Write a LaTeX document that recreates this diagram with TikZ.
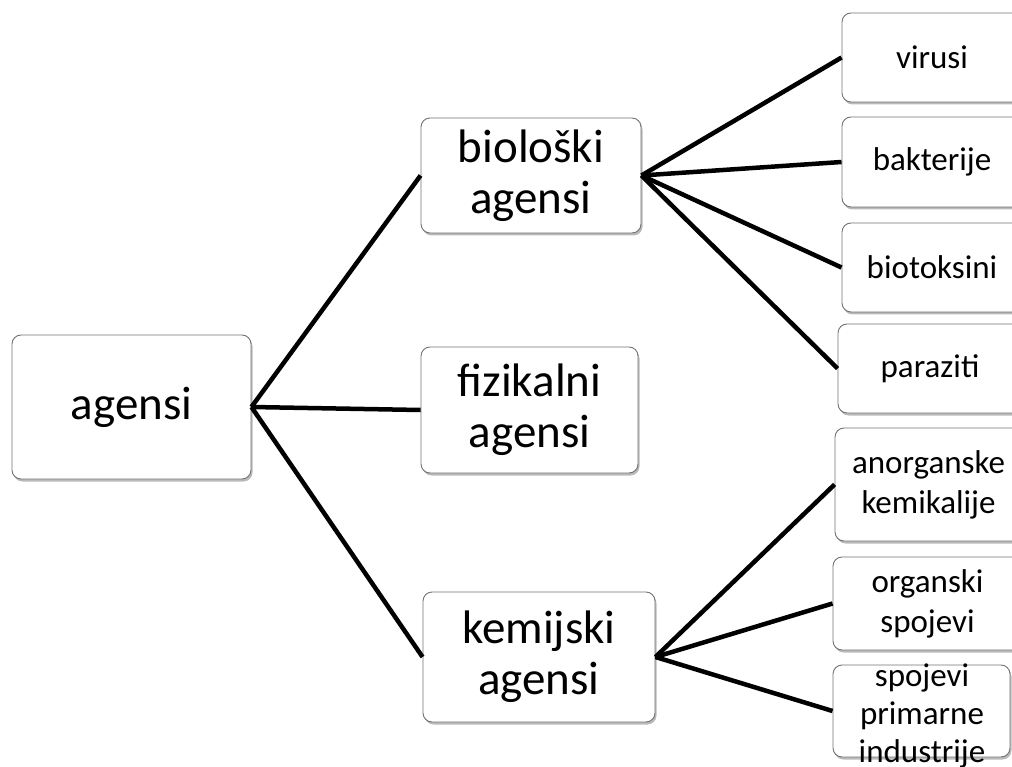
\documentclass[tikz,border=0pt]{standalone}
\usepackage{fontspec}
\setmainfont{Carlito}
\usetikzlibrary{shadows}
\tikzset{
  box/.style={draw=black!55, line width=0.9pt, fill=white, rounded corners=9pt,
    align=center, inner sep=0pt,
    drop shadow={shadow xshift=1.5pt, shadow yshift=-2.5pt, fill=black!45, opacity=0.6}},
  bigtext/.style={font=\fontsize{47}{51}\selectfont},
  smalltext/.style={font=\fontsize{33}{40}\selectfont},
  link/.style={line width=4.5pt, black}
}
\begin{document}
\begin{tikzpicture}[x=1pt,y=-1pt]
\useasboundingbox (0,0) rectangle (1012,767);
\clip (0,0) rectangle (1012,767);
% main boxes
\node[box, bigtext, minimum width=239pt, minimum height=144pt] (ag) at (131.5,407) {agensi};
\node[box, bigtext, minimum width=220pt, minimum height=115pt] (bio) at (531,175.5) {biološki\\agensi};
\node[box, bigtext, minimum width=217pt, minimum height=126pt] (fiz) at (529.5,410) {fizikalni\\agensi};
\node[box, bigtext, minimum width=232pt, minimum height=130pt] (kem) at (539,657) {kemijski\\agensi};
% right column
\node[box, smalltext, minimum width=180pt, minimum height=89pt] (vir) at (932,57.5) {virusi};
\node[box, smalltext, minimum width=180pt, minimum height=90pt] (bak) at (932,162) {bakterije};
\node[box, smalltext, minimum width=180pt, minimum height=89pt] (bt) at (932,267.5) {biotoksini};
\node[box, smalltext, minimum width=184pt, minimum height=89pt] (par) at (930,368.5) {paraziti};
\node[box, smalltext, minimum width=187pt, minimum height=113pt] (anorg) at (928.5,484.5) {anorganske\\kemikalije};
\node[box, smalltext, minimum width=189pt, minimum height=93pt] (org) at (927.5,603.5) {organski\\spojevi};
\node[box, minimum width=177pt, minimum height=92pt] (spo) at (921.5,711) {};
\node[smalltext, align=center, inner sep=0pt, font=\fontsize{33}{38}\selectfont] (spot) at (922,716) {spojevi\\primarne\\industrije};
% connectors
\draw[link] (ag.east) -- (bio.west);
\draw[link] (ag.east) -- (fiz.west);
\draw[link] (ag.east) -- (kem.west);
\draw[link] (bio.east) -- (vir.west);
\draw[link] (bio.east) -- (bak.west);
\draw[link] (bio.east) -- (bt.west);
\draw[link] (bio.east) -- (par.west);
\draw[link] (kem.east) -- (anorg.west);
\draw[link] (kem.east) -- (org.west);
\draw[link] (kem.east) -- (spo.west);
\end{tikzpicture}
\end{document}
